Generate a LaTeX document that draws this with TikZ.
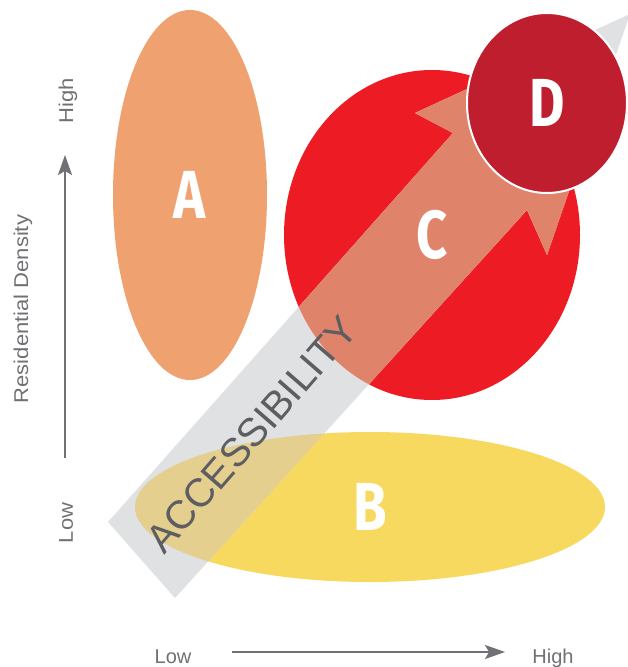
\documentclass[tikz,border=0pt]{standalone}
\usepackage{fontspec}
\setmainfont{Liberation Sans}
\newfontfamily\bigfont{Fira Sans}
\usetikzlibrary{arrows.meta,shapes.geometric}
\definecolor{colA}{RGB}{240,161,112}
\definecolor{colB}{RGB}{247,217,96}
\definecolor{colC}{RGB}{237,28,36}
\definecolor{colD}{RGB}{190,30,45}
\definecolor{bandgrey}{RGB}{224,225,227}
\definecolor{bandonC}{RGB}{224,131,107}
\definecolor{bandonB}{RGB}{228,207,142}
\definecolor{txtgrey}{RGB}{92,94,98}
\definecolor{axisgrey}{RGB}{112,113,116}
\tikzset{
  blob/.style={ellipse, inner sep=0pt, text=white,
    font=\bigfont\fontsize{68}{68}\selectfont\bfseries},
  letter/.style={inner sep=0pt, text=white,
    font=\bigfont\fontsize{68}{68}\selectfont\bfseries},
  axislabel/.style={text=axisgrey, inner sep=0pt, font=\fontsize{20}{20}\selectfont},
  axisline/.style={draw=axisgrey, line width=1.4pt,
    -{Stealth[length=20pt,width=14pt,inset=4pt]}},
}
\newcommand{\narrow}[1]{\scalebox{0.8}[1]{#1}}
\newcommand{\vstretch}[1]{\scalebox{1.1}[1]{#1}}
\newcommand{\bandpath}{(108,522) -- (175,598) -- (527,210) -- (547,255) -- (630,14)
  -- (415,113) -- (453,133) -- cycle}
\begin{document}
\begin{tikzpicture}[x=1pt,y=-1pt]
\useasboundingbox (0,0) rectangle (628,667);
\fill[white] (0,0) rectangle (628,667);
% ellipses
\node[blob, fill=colA, minimum width=154pt, minimum height=370pt] (A) at (190,195) {\narrow{A}};
\node[blob, fill=colB, minimum width=470pt, minimum height=150pt] (B) at (370,507) {};
\node[blob, fill=colC, minimum width=296pt, minimum height=330pt] (C) at (432,235) {};
% accessibility arrow
\fill[bandgrey] \bandpath;
\begin{scope}
  \clip \bandpath;
  \fill[bandonC] (432,235) ellipse [x radius=148, y radius=165];
  \fill[bandonB] (370,507) ellipse [x radius=235, y radius=75];
\end{scope}
\node[letter] (Bl) at (B.center) {\narrow{B}};
\node[letter] (Cl) at (C.center) {\narrow{C}};
\node[text=txtgrey, inner sep=0pt, rotate=49, anchor=base west,
  font=\fontsize{40}{40}\selectfont] (acc) at (164,556) {ACCESSIBILITY};
% D on top
\node[blob, fill=colD, draw=white, line width=2pt,
  minimum width=160pt, minimum height=180pt] (D) at (547,103) {\narrow{D}};
% axes
\coordinate (y0) at (65,458);
\coordinate (y1) at (65,155);
\draw[axisline] (y0) -- (y1);
\coordinate (x0) at (232,652);
\coordinate (x1) at (505,652);
\draw[axisline] (x0) -- (x1);
\node[axislabel, rotate=90] (ylow) at (66,523) {\vstretch{Low}};
\node[axislabel, rotate=90] (yhigh) at (68,101) {\vstretch{High}};
\node[axislabel, rotate=90] (ytitle) at (23,309) {\vstretch{Residential Density}};
\node[axislabel, anchor=base] (xlow) at (173,663) {Low};
\node[axislabel, anchor=base] (xhigh) at (553,663) {High};
\end{tikzpicture}
\end{document}
